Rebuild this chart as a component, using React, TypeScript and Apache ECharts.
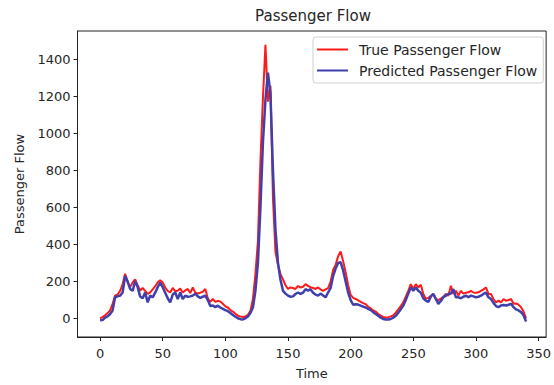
import React, { useEffect, useRef } from "react";
import * as echarts from "echarts";

// Sampled every 2 time units (t = 0, 2, 4, ..., 340)
const trueFlow = [
  2, 8, 18, 30, 45, 80, 124, 130, 150, 185,
  242, 200, 170, 195, 212, 180, 152, 165, 150, 133,
  142, 158, 175, 196, 207, 195, 168, 150, 141, 166,
  148, 150, 162, 141, 152, 160, 138, 168, 140, 136,
  140, 145, 160, 110, 90, 106, 90, 96, 92, 80,
  66, 60, 46, 38, 26, 16, 12, 9, 12, 20,
  42, 106, 240, 420, 850, 1190, 1476, 1170, 1255, 650,
  360, 290, 240, 212, 180, 160, 168, 165, 160, 176,
  168, 172, 186, 176, 170, 165, 160, 168, 158, 150,
  158, 165, 200, 262, 290, 336, 362, 310, 250, 180,
  128, 112, 106, 98, 90, 84, 78, 64, 55, 45,
  38, 25, 16, 9, 6, 8, 12, 18, 32, 50,
  68, 88, 118, 150, 186, 160, 186, 168, 183, 133,
  108, 112, 122, 133, 106, 100, 108, 118, 133, 124,
  177, 133, 150, 125, 150, 135, 140, 142, 150, 141,
  140, 142, 150, 158, 168, 133, 133, 106, 88, 97,
  88, 106, 97, 100, 106, 80, 82, 75, 62, 38,
  2,
];

const predictedFlow = [
  -9, -8, 5, 12, 25, 44, 115, 120, 124, 141,
  230, 200, 160, 150, 203, 170, 120, 110, 141, 88,
  124, 115, 140, 170, 194, 170, 140, 110, 88, 130,
  141, 106, 141, 106, 124, 118, 120, 124, 135, 120,
  112, 118, 124, 100, 68, 71, 62, 70, 60, 53,
  46, 40, 30, 20, 10, 2, -3, -4, 2, 12,
  30, 60, 150, 300, 600, 950, 1180, 1326, 1210, 800,
  480, 300, 210, 150, 135, 124, 118, 120, 133, 141,
  133, 140, 159, 150, 159, 140, 130, 124, 135, 125,
  115, 141, 165, 230, 270, 300, 305, 260, 200, 140,
  100, 75, 78, 76, 70, 65, 60, 53, 46, 35,
  25, 15, 5, -2, -5, -5, -2, 5, 15, 32,
  50, 70, 100, 135, 168, 150, 168, 150, 140, 110,
  97, 90, 120, 133, 106, 80, 95, 115, 124, 133,
  135, 159, 115, 115, 110, 118, 124, 115, 124, 120,
  115, 118, 124, 133, 140, 115, 106, 85, 68, 62,
  71, 74, 71, 75, 80, 62, 50, 44, 35, 18,
  -15,
];

const timeStep = 2;
const xTicks = [0, 50, 100, 150, 200, 250, 300, 350];
const yTicks = [0, 200, 400, 600, 800, 1000, 1200, 1400];

const FONT = "DejaVu Sans";
const TXT = "#262626";

export default function App() {
  const ref = useRef<HTMLDivElement>(null);
  useEffect(() => {
    if (!ref.current) return;
    const chart = echarts.init(ref.current, null, { renderer: "svg" });
    const toPairs = (arr: number[]) => arr.map((v, i) => [i * timeStep, v]);
    chart.setOption({
      animation: false,
      backgroundColor: "#ffffff",
      title: {
        text: "Passenger Flow",
        left: 313,
        top: 8,
        padding: 0,
        textAlign: "center",
        textStyle: { fontFamily: FONT, fontSize: 15, fontWeight: "normal", color: TXT },
      },
      legend: {
        orient: "vertical",
        left: 313,
        top: 37,
        padding: [4, 6, 4, 4],
        itemGap: 4,
        itemWidth: 31,
        itemHeight: 2,
        icon: "rect",
        borderColor: "#d0d0d0",
        borderWidth: 1,
        borderRadius: 3,
        textStyle: { fontFamily: FONT, fontSize: 14, color: TXT, lineHeight: 17, padding: [0, 0, 0, 6] },
        data: ["True Passenger Flow", "Predicted Passenger Flow"],
      },
      grid: {
        left: 77.5,
        right: 5,
        top: 31,
        bottom: 43,
        show: true,
        borderColor: "#222",
        borderWidth: 1,
      },
      xAxis: {
        type: "value",
        min: -18,
        max: 356,
        name: "Time",
        nameLocation: "middle",
        nameGap: 30,
        nameTextStyle: { fontFamily: FONT, fontSize: 13, color: TXT },
        axisLine: { show: true, onZero: false, lineStyle: { color: "#222" } },
        axisTick: { show: true, customValues: xTicks, length: 4, lineStyle: { color: "#222" } },
        axisLabel: {
          customValues: xTicks,
          formatter: (v: number) => String(v),
          fontFamily: FONT,
          fontSize: 13,
          color: TXT,
          margin: 10,
        },
        splitLine: { show: false },
      },
      yAxis: {
        type: "value",
        min: -99,
        max: 1551,
        name: "Passenger Flow",
        nameLocation: "middle",
        nameGap: 52,
        nameTextStyle: { fontFamily: FONT, fontSize: 13, color: TXT },
        axisLine: { show: true, onZero: false, lineStyle: { color: "#222" } },
        axisTick: { show: true, customValues: yTicks, length: 4, lineStyle: { color: "#222" } },
        axisLabel: {
          customValues: yTicks,
          formatter: (v: number) => String(v),
          fontFamily: FONT,
          fontSize: 13,
          color: TXT,
          margin: 7,
        },
        splitLine: { show: false },
      },
      series: [
        {
          name: "True Passenger Flow",
          type: "line",
          data: toPairs(trueFlow),
          showSymbol: false,
          color: "#ff1a1a",
          lineStyle: { width: 2, color: "#ff1a1a" },
        },
        {
          name: "Predicted Passenger Flow",
          type: "line",
          data: toPairs(predictedFlow),
          showSymbol: false,
          color: "#3f3fae",
          lineStyle: { width: 2.5, color: "#3f3fae" },
        },
      ],
    });
    return () => chart.dispose();
  }, []);
  return (
    <div
      ref={ref}
      style={{ position: "fixed", left: 0, top: 0, width: 554, height: 385 }}
    />
  );
}
